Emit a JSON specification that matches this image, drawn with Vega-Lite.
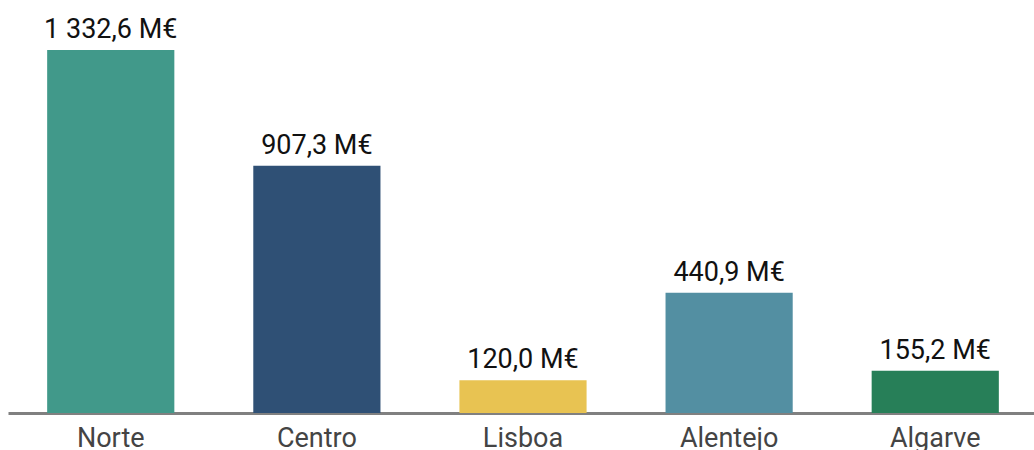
{
  "$schema": "https://vega.github.io/schema/vega-lite/v6.json",
  "autosize": "none",
  "width": 1030,
  "height": 400,
  "padding": {"left": 8, "top": 13, "right": 0, "bottom": 37},
  "background": "white",
  "config": {"view": {"stroke": null}, "font": "Roboto"},
  "data": {"values": [
    {"regiao": "Norte", "valor": 1332.6, "rotulo": "1 332,6 M€", "cor": "#41998a"},
    {"regiao": "Centro", "valor": 907.3, "rotulo": "907,3 M€", "cor": "#2f5075"},
    {"regiao": "Lisboa", "valor": 120.0, "rotulo": "120,0 M€", "cor": "#e8c352"},
    {"regiao": "Alentejo", "valor": 440.9, "rotulo": "440,9 M€", "cor": "#538fa2"},
    {"regiao": "Algarve", "valor": 155.2, "rotulo": "155,2 M€", "cor": "#277f58"}
  ]},
  "encoding": {
    "x": {"field": "regiao", "type": "nominal", "sort": null,
      "scale": {"paddingInner": 0.383, "paddingOuter": 0.19},
      "axis": {"title": null, "labelAngle": 0, "ticks": false, "domainColor": "#808080", "domainWidth": 3, "labelFontSize": 27, "labelColor": "#444444", "labelPadding": 12, "labelFont": "Roboto", "labelBaseline": "top"}},
    "y": {"field": "valor", "type": "quantitative", "scale": {"domain": [0, 1468]}, "axis": null}
  },
  "layer": [
    {"mark": {"type": "bar"}, "encoding": {"color": {"field": "cor", "type": "nominal", "scale": null}}},
    {"mark": {"type": "text", "baseline": "bottom", "dy": -6, "fontSize": 27, "color": "#111111", "font": "Roboto"},
     "encoding": {"text": {"field": "rotulo"}}}
  ]
}
